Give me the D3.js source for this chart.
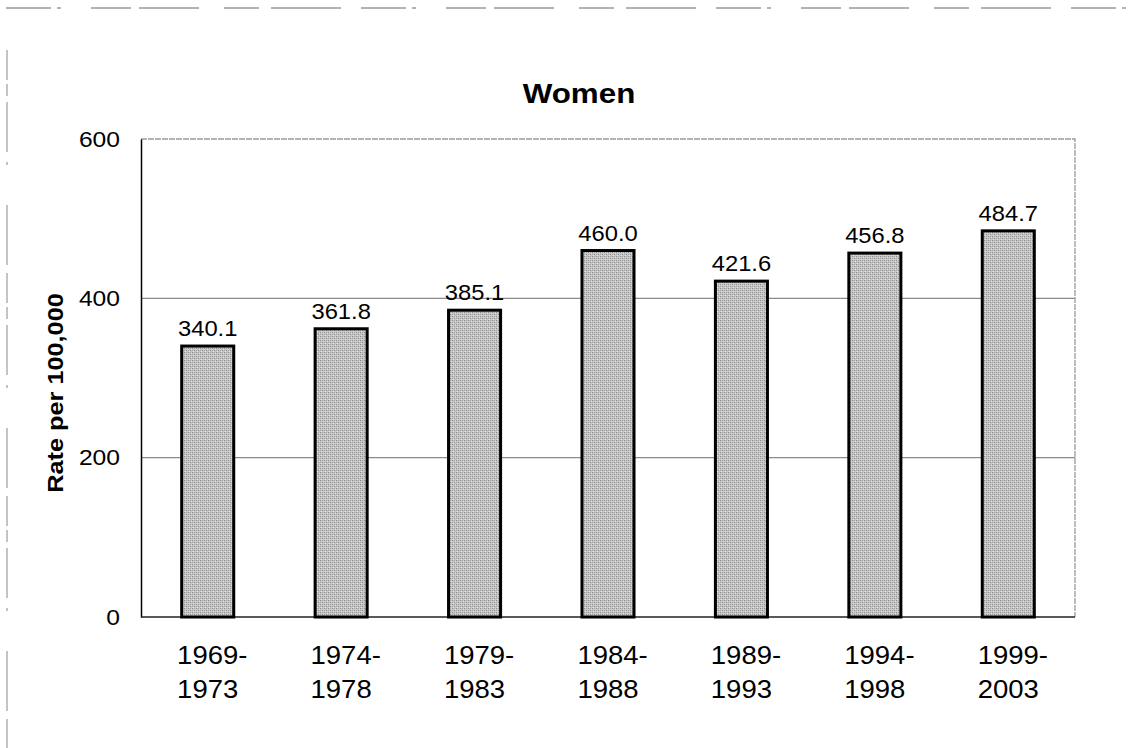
<!DOCTYPE html>
<html>
<head>
<meta charset="utf-8">
<script src="https://cdn.jsdelivr.net/npm/d3@7"></script>
<style>
  html, body { margin: 0; padding: 0; background: #fff; }
  svg { display: block; font-family: Arial, "Liberation Sans", sans-serif; }
</style>
</head>
<body>
<svg id="chart" width="1137" height="748"></svg>
<script>
const categories = ["1969-1973", "1974-1978", "1979-1983", "1984-1988", "1989-1993", "1994-1998", "1999-2003"];
const values = [340.1, 361.8, 385.1, 460.0, 421.6, 456.8, 484.7];
const yTicks = [0, 200, 400, 600];
const title = "Women";
const yTitle = "Rate per 100,000";

const svg = d3.select("#chart");
const plot = { left: 141, right: 1075, top: 139, bottom: 617 };
const SX = 1.12; // horizontal stretch of the glyphs in the reference

// texture pattern for bars
const defs = svg.append("defs");
const pat = defs.append("pattern").attr("id", "tex").attr("width", 4).attr("height", 4)
  .attr("patternUnits", "userSpaceOnUse");
pat.append("rect").attr("width", 4).attr("height", 4).attr("fill", "#c6c6c6");
[[0,0,"#8a8a8a"],[2,2,"#8a8a8a"],[2,0,"#a8a8a8"],[0,2,"#a8a8a8"],[1,3,"#e4e4e4"],[3,1,"#dadada"]]
  .forEach(([px, py, c]) => pat.append("rect").attr("x", px).attr("y", py)
    .attr("width", 1).attr("height", 1).attr("fill", c));

// scan-edge decorations
svg.append("line").attr("x1", 6).attr("x2", 1137).attr("y1", 8).attr("y2", 8)
  .attr("stroke", "#666").attr("stroke-width", 1).attr("stroke-dasharray", "45,6,4,30,40,8,60,25,35,12,70,20");
svg.append("line").attr("x1", 7).attr("x2", 7).attr("y1", 50).attr("y2", 748)
  .attr("stroke", "#888").attr("stroke-width", 1).attr("stroke-dasharray", "30,4,12,6,50,10,3,40,60,8");

const x = d3.scaleBand().domain(categories).range([plot.left, plot.right])
  .paddingInner(0.61).paddingOuter(0.305);
const y = d3.scaleLinear().domain([0, 600]).range([plot.bottom, plot.top]);

// gridlines
svg.append("g").selectAll("line").data(yTicks.filter(d => d > 0 && d < 600)).join("line")
  .attr("x1", plot.left).attr("x2", plot.right)
  .attr("y1", d => y(d)).attr("y2", d => y(d))
  .attr("stroke", "#8a8a8a").attr("stroke-width", 1.2);

// plot frame (top/right light)
svg.append("path")
  .attr("d", `M${plot.left},${plot.top}H${plot.right}V${plot.bottom}`)
  .attr("fill", "none").attr("stroke", "#9a9a9a").attr("stroke-width", 1.3)
  .attr("stroke-dasharray", "6,1");

// y axis via d3 axis
const yAxis = d3.axisLeft(y).tickValues(yTicks).tickSize(0).tickPadding(21).tickFormat(d3.format("d"));
const gy = svg.append("g").attr("transform", `translate(${plot.left},0)`).call(yAxis);
gy.select(".domain").attr("stroke", "#000").attr("stroke-width", 1.5);
gy.selectAll(".tick text")
  .attr("font-size", 22).attr("fill", "#000")
  .attr("font-family", "Arial, 'Liberation Sans', sans-serif")
  .attr("x", null).attr("dy", null)
  .attr("text-anchor", "end")
  .attr("transform", `translate(-21,7) scale(${SX},1)`);

// x axis baseline
svg.append("line").attr("x1", plot.left).attr("x2", plot.right)
  .attr("y1", plot.bottom).attr("y2", plot.bottom)
  .attr("stroke", "#222").attr("stroke-width", 1.5);

// bars
svg.append("g").selectAll("rect").data(values).join("rect")
  .attr("x", (d, i) => x(categories[i]))
  .attr("y", d => y(d))
  .attr("width", x.bandwidth())
  .attr("height", d => y(0) - y(d))
  .attr("fill", "url(#tex)")
  .attr("stroke", "#000").attr("stroke-width", 3);

// value labels
svg.append("g").selectAll("text").data(values).join("text")
  .attr("transform", (d, i) => `translate(${x(categories[i]) + x.bandwidth() / 2},${y(d) - 10}) scale(1.08,1)`)
  .attr("text-anchor", "middle").attr("font-size", 22).attr("fill", "#000")
  .text(d => d.toFixed(1));

// category labels (two lines, left-aligned to second line)
const gx = svg.append("g");
categories.forEach((c, i) => {
  const parts = c.split("-");
  const cx = x(c) + x.bandwidth() / 2;
  const g = gx.append("g");
  const t2 = g.append("text").attr("font-size", 25).attr("text-anchor", "start").text(parts[1]);
  const w = t2.node().getComputedTextLength() * 1.1;
  const sx0 = cx - w / 2;
  t2.attr("transform", `translate(${sx0},698) scale(1.1,1)`);
  g.append("text").attr("font-size", 25).attr("text-anchor", "start")
    .attr("transform", `translate(${sx0},664) scale(1.1,1)`).text(parts[0] + "-");
});

// title
svg.append("text").attr("transform", `translate(579,103) scale(1.12,1)`)
  .attr("text-anchor", "middle").attr("font-size", 28).attr("font-weight", "bold").text(title);

// y title
svg.append("text").attr("transform", `translate(63,393) rotate(-90) scale(1.15,1)`)
  .attr("text-anchor", "middle").attr("font-size", 22).attr("font-weight", "bold").text(yTitle);
</script>
</body>
</html>
